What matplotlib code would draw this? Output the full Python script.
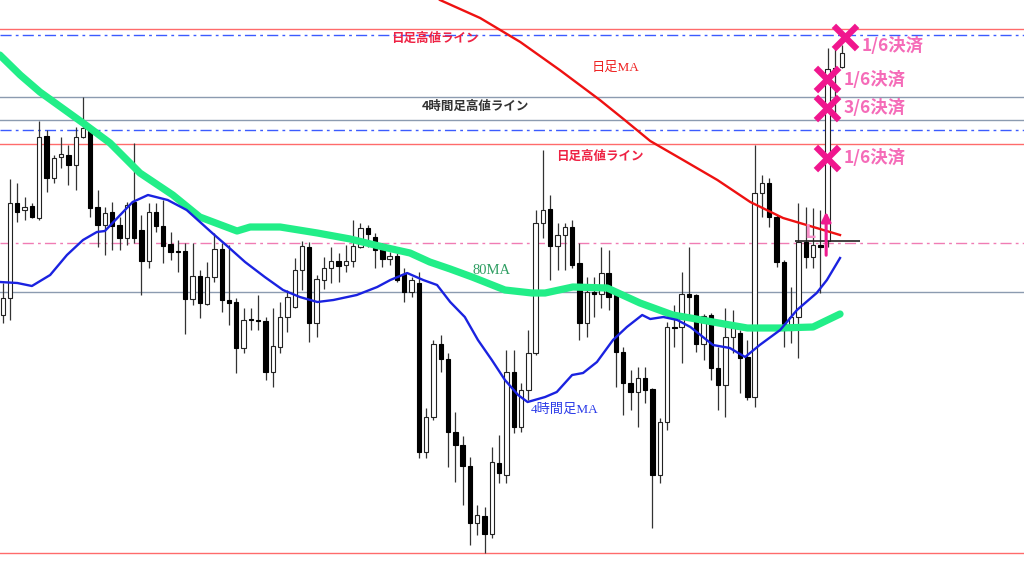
import matplotlib
matplotlib.use("Agg")
import matplotlib.pyplot as plt
import numpy as np

# candle values (chart units, counted down from the top)
opens = [315, 298, 203, 210, 206, 218, 136, 178, 157, 155, 165, 137, 128, 207, 225, 212, 225, 238, 202, 230,
         261, 212, 226, 244, 251, 251, 299, 276, 304, 277, 249, 300, 302, 348, 319, 320, 321, 372, 347, 317,
         307, 270, 247, 323, 280, 268, 261, 265, 261, 247, 228, 237, 249, 259, 256, 274, 292, 283, 452, 417,
         344, 359, 432, 445, 466, 523, 516, 534, 463, 475, 372, 427, 390, 353, 223, 209, 246, 235, 227, 263,
         323, 292, 294, 273, 295, 352, 383, 392, 378, 389, 475, 422, 327, 327, 294, 295, 344, 315, 368, 385,
         337, 333, 357, 397, 193, 183, 217, 262, 330, 317, 242, 257, 245, 241, 68, 67]
highs = [283, 179, 183, 197, 203, 121, 130, 155, 137, 145, 127, 97, 126, 190, 207, 202, 217, 202, 143, 215,
         203, 203, 200, 232, 240, 243, 243, 270, 262, 233, 243, 245, 298, 308, 308, 295, 317, 308, 302, 290,
         258, 241, 242, 275, 257, 247, 253, 245, 220, 223, 225, 233, 243, 252, 253, 268, 277, 272, 408, 340,
         335, 353, 412, 436, 457, 505, 507, 447, 435, 350, 350, 383, 330, 210, 150, 195, 223, 223, 220, 243,
         277, 277, 247, 250, 290, 347, 370, 367, 367, 388, 418, 322, 305, 272, 247, 294, 314, 313, 347, 308,
         310, 330, 340, 145, 175, 178, 215, 260, 287, 203, 207, 208, 210, 48, 48, 45]
lows = [323, 320, 222, 220, 218, 220, 192, 183, 168, 185, 190, 138, 217, 247, 255, 250, 250, 245, 243, 295,
        268, 232, 263, 260, 272, 334, 305, 318, 305, 282, 312, 325, 373, 353, 330, 330, 380, 387, 353, 332,
        308, 290, 342, 337, 289, 283, 282, 272, 267, 248, 247, 268, 267, 265, 282, 302, 297, 458, 458, 420,
        372, 467, 482, 505, 545, 535, 553, 538, 483, 483, 433, 432, 400, 355, 238, 280, 270, 270, 268, 340,
        337, 317, 308, 310, 387, 415, 410, 427, 403, 528, 483, 430, 347, 363, 317, 352, 360, 380, 410, 417,
        353, 393, 400, 407, 217, 227, 267, 347, 343, 358, 268, 268, 293, 247, 120, 68]
closes = [298, 203, 212, 207, 217, 137, 178, 158, 154, 165, 137, 128, 208, 225, 213, 226, 238, 205, 238, 261,
          212, 226, 246, 252, 252, 299, 276, 303, 277, 249, 300, 303, 348, 320, 320, 321, 372, 346, 317, 297,
          270, 246, 323, 279, 268, 261, 266, 261, 246, 228, 234, 250, 259, 256, 280, 292, 280, 452, 417, 344,
          359, 432, 445, 466, 523, 515, 534, 462, 473, 372, 427, 390, 353, 223, 210, 246, 235, 227, 265, 323,
          292, 294, 273, 297, 352, 383, 392, 378, 390, 475, 422, 327, 328, 294, 297, 344, 316, 368, 385, 337,
          328, 358, 397, 193, 183, 217, 262, 330, 317, 242, 257, 245, 247, 69, 70, 53]

# moving averages: (candle index, value)
ma80_idx = [-0.4, 2.4, 5.1, 11.0, 14.7, 18.8, 23.3, 27.0, 32.1, 33.9, 38.0, 43.1, 47.6, 52.1, 55.8, 58.5,
            61.3, 64.3, 68.8, 72.5, 74.3, 78.1, 82.8, 87.3, 91.8, 94.2, 97.3, 102.0, 106.5, 111.0, 114.7]
ma80 = [55, 75, 92, 123, 143, 173, 195, 217, 231, 227, 227, 233, 239, 247, 253, 262,
        269, 277, 290, 293, 293, 287, 288, 303, 315, 318, 322, 328, 328, 327, 314]

ma4h_idx = [-0.4, 2.0, 4.0, 6.5, 8.8, 11.0, 12.9, 14.0, 15.7, 17.8, 19.9, 22.6, 25.2, 28.7, 30.9, 33.2,
            35.9, 38.4, 40.7, 43.1, 45.3, 48.5, 51.3, 53.1, 55.4, 57.6, 59.5, 61.3, 63.3, 65.1, 67.0, 68.8,
            70.6, 71.9, 74.3, 75.9, 78.0, 79.5, 81.4, 83.6, 85.5, 87.6, 88.7, 90.5, 92.4, 94.2, 97.3, 99.6,
            101.7, 103.7, 106.5, 108.8, 111.5, 112.9, 114.7]
ma4h = [282, 283, 286, 275, 255, 240, 232, 231, 218, 202, 195, 200, 210, 233, 247, 262,
        277, 290, 297, 302, 300, 295, 287, 280, 273, 280, 285, 302, 317, 340, 360, 380,
        395, 402, 397, 392, 375, 373, 362, 340, 327, 315, 319, 317, 320, 327, 345, 348,
        357, 345, 330, 310, 293, 280, 258]

ma_day_idx = [59.9, 65.4, 70.9, 76.3, 81.8, 85.2, 88.7, 93.2, 97.9, 102.4, 106.9, 111.5, 114.7]
ma_day = [0, 18, 42, 70, 100, 120, 141, 160, 180, 202, 218, 228, 235]

# horizontal levels
daily_high_lines = [29, 144, 553]
h4_high_lines = [97, 120]
blue_levels = [35, 130]
entry_level = 243
support_level = 292

# trade marks
entry_idx = 110.6
arrow_idx = 112.8
exit_idx = [115.4, 112.9, 112.9, 112.9]
exit_level = [37, 79, 108, 158]
exit_text = ["1/6決済", "1/6決済", "3/6決済", "1/6決済"]
exit_text_idx = [117.7, 115.2, 115.2, 115.2]
exit_text_level = [46, 80, 108, 158]

CJK = ["Noto Sans CJK JP", "DejaVu Sans"]
SERIF = ["Liberation Serif", "Noto Sans CJK JP"]

fig = plt.figure(figsize=(10.24, 5.76), dpi=100)
ax = fig.add_axes([0, 0, 1, 1])
ax.set_xlim(-0.37, 139.9)
ax.set_ylim(576, 0)
ax.axis("off")

for y in daily_high_lines:
    ax.axhline(y, color="#ff6b6b", lw=1.0, zorder=1)
for y in h4_high_lines:
    ax.axhline(y, color="#8c9bb0", lw=1.0, zorder=1)
ax.axhline(support_level, color="#8c9bb0", lw=1.0, zorder=1)
for y in blue_levels:
    ax.axhline(y, color="#3b5bff", lw=1.0, ls=(0, (8, 3, 2, 3)), zorder=1)
ax.axhline(entry_level, color="#f07cb4", lw=1.0, ls=(0, (8, 3, 2, 3)), zorder=1)

o = np.array(opens)
h = np.array(highs)
l = np.array(lows)
c = np.array(closes)
x = np.arange(len(o))

ax.vlines(x, h, l, color="#333333", lw=0.9, zorder=3)
up = c < o
body = np.maximum(np.abs(c - o), 1.0)
bottom = np.minimum(o, c)
ax.bar(x[up], body[up], bottom=bottom[up], width=0.6, color="white",
       edgecolor="#222222", linewidth=0.8, zorder=4)
ax.bar(x[~up], body[~up], bottom=bottom[~up], width=0.6, color="black",
       edgecolor="black", linewidth=0.8, zorder=4)

ax.plot(ma80_idx, ma80, color="#22ee88", lw=5.2, solid_capstyle="round", zorder=5)
ax.plot(ma4h_idx, ma4h, color="#1a22e0", lw=1.7, zorder=6)
ax.plot(ma_day_idx, ma_day, color="#ee1111", lw=1.7, zorder=6)

ax.text(59.2, 38, "日足高値ライン", color="#ee2244", fontsize=9, fontweight="bold",
        family=CJK, ha="center", va="center", zorder=7)
ax.text(81.8, 156, "日足高値ライン", color="#ee2244", fontsize=9, fontweight="bold",
        family=CJK, ha="center", va="center", zorder=7)
ax.text(64.7, 106, "4時間足高値ライン", color="#333333", fontsize=9, fontweight="bold",
        family=CJK, ha="center", va="center", zorder=7)
ax.text(83.9, 68, "日足MA", color="#ee2222", fontsize=9.5, family=SERIF,
        ha="center", va="center", zorder=7)
ax.text(67.0, 270, "80MA", color="#2e9e62", fontsize=10.5, family=SERIF,
        ha="center", va="center", zorder=7)
ax.text(77.0, 410, "4時間足MA", color="#2a3ae8", fontsize=9.5, family=SERIF,
        ha="center", va="center", zorder=7)

# entry
ax.hlines(entry_level - 2, 108.5, 117.4, color="#222222", lw=1.2, zorder=7)
ax.text(entry_idx, 232, "L", color="#f590c8", fontsize=14, fontweight="bold",
        family=CJK, ha="center", va="center", zorder=8)
ax.annotate("", xy=(arrow_idx, 209), xytext=(arrow_idx, 258),
            arrowprops=dict(arrowstyle="-|>", color="#ee1b8f", lw=2.2, mutation_scale=14),
            zorder=9)

# exits
ax.scatter(exit_idx, exit_level, marker="x", s=280, linewidths=4.5,
           color="#f0168e", zorder=9)
for xi, yi, t in zip(exit_text_idx, exit_text_level, exit_text):
    ax.text(xi, yi, t, color="#f56bb8", fontsize=12.5, fontweight="bold",
            family=CJK, ha="left", va="center", zorder=9)

fig.savefig("out.png", dpi=100, facecolor="white")
